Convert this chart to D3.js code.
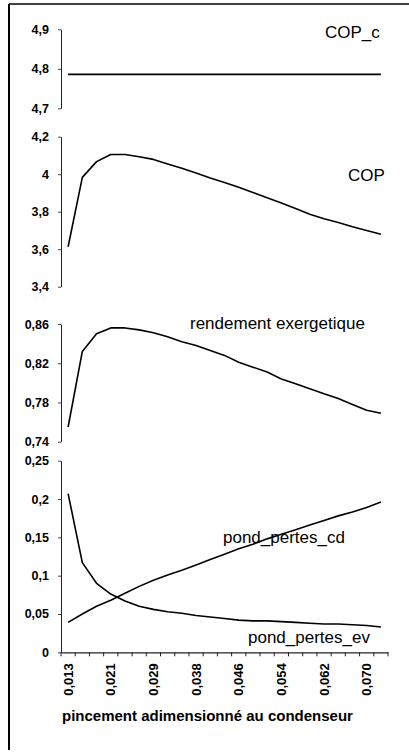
<!DOCTYPE html>
<html><head><meta charset="utf-8">
<script src="https://cdn.jsdelivr.net/npm/d3@7/dist/d3.min.js"></script>
<style>
html,body{margin:0;padding:0;background:#fff;}
svg{display:block;font-family:"Liberation Sans",Arial,sans-serif;}
</style></head>
<body>
<svg id="c" width="409" height="755"></svg>
<script>
const categories = ["0,013","0,016","0,019","0,021","0,024","0,027","0,029","0,032","0,035","0,038","0,040","0,043","0,046","0,048","0,051","0,054","0,056","0,059","0,062","0,065","0,067","0,070","0,073"];
const copC = [4.786,4.786,4.786,4.786,4.786,4.786,4.786,4.786,4.786,4.786,4.786,4.786,4.786,4.786,4.786,4.786,4.786,4.786,4.786,4.786,4.786,4.786,4.786];
const cop = [3.613,3.983,4.067,4.105,4.105,4.093,4.079,4.055,4.032,4.006,3.980,3.956,3.930,3.902,3.874,3.847,3.817,3.787,3.762,3.742,3.720,3.700,3.680];
const rendement = [0.755,0.832,0.850,0.856,0.856,0.854,0.851,0.847,0.842,0.838,0.833,0.828,0.821,0.816,0.811,0.804,0.799,0.794,0.789,0.784,0.778,0.772,0.769];
const pondEv = [0.207,0.117,0.090,0.076,0.067,0.060,0.056,0.053,0.051,0.048,0.046,0.044,0.042,0.041,0.041,0.040,0.039,0.038,0.037,0.037,0.036,0.035,0.033];
const pondCd = [0.039,0.050,0.060,0.068,0.077,0.086,0.094,0.101,0.107,0.114,0.121,0.128,0.135,0.141,0.148,0.154,0.160,0.166,0.172,0.178,0.183,0.189,0.196];
const ticksCopC = [4.7,4.8,4.9];
const ticksCop = [3.4,3.6,3.8,4.0,4.2];
const ticksRend = [0.74,0.78,0.82,0.86];
const ticksPond = [0,0.05,0.10,0.15,0.20,0.25];
const labelEvery = 3;
const xTitle = "pincement adimensionné au condenseur";

const svg = d3.select("#c");
// frame lines (left and top)
svg.append("line").attr("x1",9).attr("y1",4).attr("x2",9).attr("y2",750).attr("stroke","#000").attr("stroke-width",2);
svg.append("line").attr("x1",9).attr("y1",4).attr("x2",409).attr("y2",4).attr("stroke","#000").attr("stroke-width",1.5);

const x = d3.scaleBand().domain(categories).range([61,388]).padding(0);
const cx = c => x(c) + x.bandwidth()/2;
const fmt = v => d3.format("~g")(+v.toFixed(2)).replace(".",",");

const panels = [
  {series:[copC], dom:[4.7,4.9], rng:[108.3,29.3], ticks:ticksCopC, labels:[{t:"COP_c",x:325,y:38}]},
  {series:[cop], dom:[3.4,4.2], rng:[286.7,136.7], ticks:ticksCop, labels:[{t:"COP",x:348,y:181}]},
  {series:[rendement], dom:[0.74,0.86], rng:[441.7,324], ticks:ticksRend, labels:[{t:"rendement exergetique",x:190,y:329}]},
  {series:[pondEv,pondCd], dom:[0,0.25], rng:[652.3,460.7], ticks:ticksPond, labels:[{t:"pond_pertes_cd",x:223,y:543},{t:"pond_pertes_ev",x:248,y:643}]}
];

panels.forEach(p=>{
  const y = d3.scaleLinear().domain(p.dom).range(p.rng);
  const ax = svg.append("g").attr("transform","translate(61,0)")
    .call(d3.axisLeft(y).tickValues(p.ticks).tickSize(3).tickSizeOuter(0).tickPadding(9).tickFormat(fmt));
  ax.select(".domain").attr("stroke","#222").attr("stroke-width",1);
  ax.selectAll(".tick line").attr("stroke","#444");
  ax.selectAll("text").attr("font-size",12.5).attr("font-weight","bold").attr("fill","#000")
    .attr("font-family","'Liberation Sans',Arial,sans-serif");
  const line = d3.line().x((d,i)=>cx(categories[i])).y(d=>y(d));
  p.series.forEach(s=>{
    svg.append("path").datum(s).attr("d",line).attr("fill","none").attr("stroke","#000").attr("stroke-width",1.6).attr("stroke-linejoin","round");
  });
  p.labels.forEach(l=>{
    svg.append("text").attr("x",l.x).attr("y",l.y).attr("font-size",17).attr("fill","#000").text(l.t);
  });
});

// bottom category axis
const y0 = 652.3;
const gx = svg.append("g").attr("transform",`translate(0,${y0})`)
  .call(d3.axisBottom(x).tickValues(categories.filter((c,i)=>i%labelEvery===0)).tickSize(0).tickSizeOuter(0).tickPadding(0));
gx.select(".domain").attr("stroke","#222").attr("stroke-width",1.2);
gx.selectAll(".tick text")
  .attr("transform","translate(0,11) rotate(-90)")
  .attr("text-anchor","end").attr("dy","0.35em").attr("y",0).attr("x",0)
  .attr("font-size",13).attr("font-weight","bold").attr("fill","#000")
  .attr("font-family","'Liberation Sans',Arial,sans-serif");
// tick marks between categories
const bounds = d3.range(categories.length+1).map(i=>x.range()[0]+i*x.step());
svg.append("g").selectAll("line").data(bounds).join("line")
  .attr("x1",d=>d).attr("x2",d=>d).attr("y1",y0).attr("y2",y0+4).attr("stroke","#222").attr("stroke-width",1);

svg.append("text").attr("x",62).attr("y",721).attr("font-size",15).attr("font-weight","bold").attr("fill","#000").text(xTitle);
</script>
</body></html>
